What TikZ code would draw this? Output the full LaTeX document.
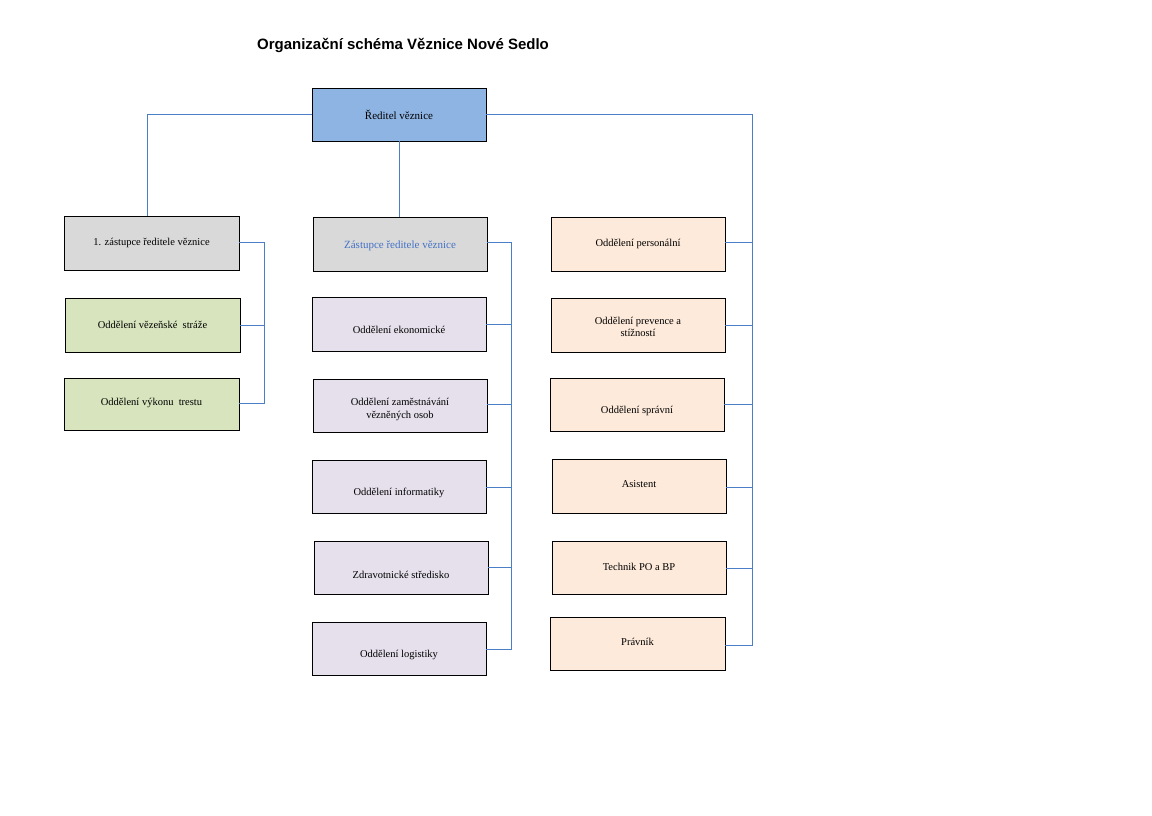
\documentclass[tikz,border=0pt]{standalone}
\usepackage{fontspec}
\setmainfont{Liberation Serif}
\newfontfamily\titlefont{Liberation Sans}
\definecolor{cblue}{HTML}{8EB4E3}
\definecolor{cgray}{HTML}{D9D9D9}
\definecolor{cgreen}{HTML}{D7E4BD}
\definecolor{clav}{HTML}{E6E0EC}
\definecolor{cpeach}{HTML}{FDEADA}
\definecolor{cline}{HTML}{4A7EC7}
\definecolor{ctext}{HTML}{4472C4}
\begin{document}
\begin{tikzpicture}[x=1pt,y=-1pt,
 bx/.style={draw=black,line width=0.6pt,align=center,font=\fontsize{10.5}{12.5}\selectfont,inner sep=0pt},
 ln/.style={draw=cline,line width=0.7pt}]
\useasboundingbox[fill=white] (0,0) rectangle (1152,815);
\newcommand\bbox[7]{\node[bx,fill=#6,minimum width=#3-#2,minimum height=#5-#4,#7] (#1) at ({(#2+#3)/2},{(#4+#5)/2}) {};}
\node[font=\titlefont\bfseries\fontsize{15}{18}\selectfont] (title) at (403,45) {Organizační schéma Věznice Nové Sedlo};
\bbox{r}{312}{486}{88}{141}{cblue}{}
\node[font=\fontsize{11}{13}\selectfont] at (r) {Ředitel věznice};
\bbox{z1}{64}{239}{216}{270}{cgray}{}
\node[font=\fontsize{10.5}{12.5}\selectfont] at (z1) {1. zástupce ředitele věznice};
\bbox{g1}{65}{240}{298}{352}{cgreen}{}
\node[font=\fontsize{10.5}{12.5}\selectfont] at (g1) {Oddělení vězeňské\ \ stráže};
\bbox{g2}{64}{239}{378}{430}{cgreen}{}
\node[font=\fontsize{10.5}{12.5}\selectfont] at ([yshift=1]g2) {Oddělení výkonu\ \ trestu};
\bbox{z2}{313}{487}{217}{271}{cgray}{}
\node[font=\fontsize{11}{13}\selectfont,text=ctext] at ([yshift=-2]z2) {Zástupce ředitele věznice};
\bbox{m1}{312}{486}{297}{351}{clav}{}
\node[font=\fontsize{10.5}{12.5}\selectfont] at ([yshift=-6]m1) {Oddělení ekonomické};
\bbox{m2}{313}{487}{379}{432}{clav}{}
\node[font=\fontsize{10.5}{12.5}\selectfont,align=center] at ([yshift=-4]m2) {Oddělení zaměstnávání\\vězněných osob};
\bbox{m3}{312}{486}{460}{513}{clav}{}
\node[font=\fontsize{10.5}{12.5}\selectfont] at ([yshift=-6]m3) {Oddělení informatiky};
\bbox{m4}{314}{488}{541}{594}{clav}{}
\node[font=\fontsize{10.5}{12.5}\selectfont] at ([yshift=-7]m4) {Zdravotnické středisko};
\bbox{m5}{312}{486}{622}{675}{clav}{}
\node[font=\fontsize{10.5}{12.5}\selectfont] at ([yshift=-6]m5) {Oddělení logistiky};
\bbox{p1}{551}{725}{217}{271}{cpeach}{}
\node[font=\fontsize{10.5}{12.5}\selectfont] at (p1) {Oddělení personální};
\bbox{p2}{551}{725}{298}{352}{cpeach}{}
\node[font=\fontsize{10.5}{12.5}\selectfont,align=center] at ([yshift=-2]p2) {Oddělení prevence a\\stížností};
\bbox{p3}{550}{724}{378}{431}{cpeach}{}
\node[font=\fontsize{10.5}{12.5}\selectfont] at ([yshift=-6]p3) {Oddělení správní};
\bbox{p4}{552}{726}{459}{513}{cpeach}{}
\node[font=\fontsize{10.5}{12.5}\selectfont] at ([yshift=2]p4) {Asistent};
\bbox{p5}{552}{726}{541}{594}{cpeach}{}
\node[font=\fontsize{10.5}{12.5}\selectfont] at ([yshift=1]p5) {Technik PO a BP};
\bbox{p6}{550}{725}{617}{670}{cpeach}{}
\node[font=\fontsize{10.5}{12.5}\selectfont] at ([yshift=2]p6) {Právník};
% connectors
\draw[ln] (r.west) -| (z1.north -| 147,0);
\draw[ln] (r.south -| 399,0) -- (z2.north -| 399,0);
\coordinate (rr) at (752,645);
\draw[ln] (r.east) -| (rr) -- (p6.east |- rr);
\foreach \b/\y in {p1/242,p2/325,p3/404,p4/487,p5/568}{\draw[ln] (752,\y) -- (\b.east |- 0,\y);}
\coordinate (lb) at (264,403);
\draw[ln] (z1.east |- 0,242) -| (lb) -- (g2.east |- lb);
\draw[ln] (264,325) -- (g1.east |- 0,325);
\coordinate (mb) at (511,649);
\draw[ln] (z2.east |- 0,242) -| (mb) -- (m5.east |- mb);
\foreach \b/\y in {m1/324,m2/404,m3/487,m4/567}{\draw[ln] (511,\y) -- (\b.east |- 0,\y);}
\end{tikzpicture}
\end{document}
